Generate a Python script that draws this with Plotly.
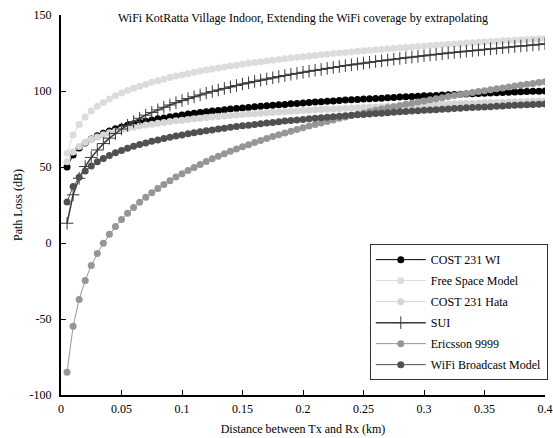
import plotly.graph_objects as go

# Tx-Rx separation grid (km)
distance_km = [round(0.005 * i, 3) for i in range(1, 81)]

cost231_wi = [50.0, 57.9, 62.5, 65.8, 68.4, 70.5, 72.2, 73.7, 75.1, 76.3,
              77.4, 78.4, 79.3, 80.1, 80.9, 81.7, 82.3, 83.0, 83.6, 84.2,
              84.8, 85.3, 85.8, 86.3, 86.8, 87.2, 87.6, 88.1, 88.5, 88.8,
              89.2, 89.6, 89.9, 90.3, 90.6, 90.9, 91.2, 91.6, 91.8, 92.1,
              92.4, 92.7, 92.9, 93.2, 93.5, 93.7, 94.0, 94.2, 94.4, 94.7,
              94.9, 95.1, 95.3, 95.6, 95.8, 96.0, 96.2, 96.4, 96.6, 96.8,
              96.9, 97.1, 97.3, 97.5, 97.7, 97.9, 98.0, 98.2, 98.4, 98.5,
              98.7, 98.8, 99.0, 99.2, 99.3, 99.5, 99.6, 99.8, 99.9, 100.0]

free_space = [59.0, 71.0, 77.9, 82.9, 86.8, 89.9, 92.5, 94.8, 96.9, 98.7,
              100.3, 101.8, 103.2, 104.5, 105.7, 106.8, 107.8, 108.8, 109.8, 110.6,
              111.5, 112.3, 113.1, 113.8, 114.5, 115.2, 115.8, 116.4, 117.0, 117.6,
              118.2, 118.7, 119.3, 119.8, 120.3, 120.8, 121.2, 121.7, 122.2, 122.6,
              123.0, 123.4, 123.8, 124.2, 124.6, 125.0, 125.4, 125.7, 126.1, 126.4,
              126.8, 127.1, 127.4, 127.8, 128.1, 128.4, 128.7, 129.0, 129.3, 129.6,
              129.9, 130.1, 130.4, 130.7, 131.0, 131.3, 131.5, 131.8, 132.0, 132.2,
              132.5, 132.7, 133.0, 133.2, 133.4, 133.7, 133.9, 134.1, 134.4, 134.6]

cost231_hata = [53.5, 59.8, 63.5, 66.1, 68.2, 69.8, 71.2, 72.5, 73.5, 74.5,
                75.4, 76.2, 76.9, 77.6, 78.2, 78.8, 79.3, 79.9, 80.4, 80.8,
                81.3, 81.7, 82.1, 82.5, 82.9, 83.2, 83.6, 83.9, 84.2, 84.5,
                84.8, 85.1, 85.4, 85.7, 85.9, 86.2, 86.4, 86.7, 86.9, 87.1,
                87.4, 87.6, 87.8, 88.0, 88.2, 88.4, 88.6, 88.8, 89.0, 89.2,
                89.4, 89.5, 89.7, 89.9, 90.0, 90.2, 90.4, 90.5, 90.7, 90.8,
                91.0, 91.1, 91.3, 91.4, 91.6, 91.7, 91.8, 92.0, 92.1, 92.2,
                92.4, 92.5, 92.6, 92.7, 92.9, 93.0, 93.1, 93.2, 93.4, 93.5]

sui = [13.0, 31.7, 42.6, 50.3, 56.3, 61.2, 65.4, 69.0, 72.1, 75.0,
       77.5, 79.9, 82.1, 84.1, 85.9, 87.6, 89.3, 90.8, 92.3, 93.7,
       95.0, 96.2, 97.4, 98.6, 99.7, 100.7, 101.7, 102.7, 103.6, 104.6,
       105.4, 106.3, 107.2, 107.9, 108.7, 109.5, 110.2, 111.0, 111.6, 112.3,
       113.0, 113.6, 114.2, 114.9, 115.5, 116.1, 116.7, 117.2, 117.8, 118.3,
       118.9, 119.4, 119.9, 120.4, 120.9, 121.4, 121.9, 122.3, 122.8, 123.2,
       123.7, 124.1, 124.5, 125.0, 125.4, 125.8, 126.2, 126.6, 127.0, 127.4,
       127.8, 128.1, 128.5, 128.9, 129.3, 129.6, 129.9, 130.3, 130.7, 131.0]

ericsson_9999 = [-85.0, -54.8, -37.1, -24.6, -14.8, -6.9, -0.2, 5.7, 10.8, 15.4,
                 19.5, 23.3, 26.8, 30.1, 33.1, 35.9, 38.5, 41.0, 43.4, 45.6,
                 47.7, 49.7, 51.7, 53.6, 55.4, 57.1, 58.7, 60.3, 61.8, 63.3,
                 64.7, 66.1, 67.5, 68.7, 70.0, 71.2, 72.4, 73.6, 74.7, 75.8,
                 77.0, 78.0, 79.0, 80.0, 81.0, 82.0, 82.9, 83.8, 84.7, 85.6,
                 86.5, 87.3, 88.1, 88.9, 89.7, 90.5, 91.3, 92.0, 92.8, 93.5,
                 94.2, 94.9, 95.6, 96.3, 97.0, 97.7, 98.3, 99.0, 99.6, 100.2,
                 100.8, 101.4, 102.0, 102.6, 103.3, 103.9, 104.4, 105.0, 105.6, 106.1]

wifi_broadcast = [27.0, 37.2, 43.2, 47.4, 50.7, 53.4, 55.6, 57.6, 59.3, 60.9,
                  62.3, 63.6, 64.8, 65.8, 66.9, 67.8, 68.7, 69.5, 70.4, 71.1,
                  71.8, 72.5, 73.2, 73.8, 74.4, 75.0, 75.5, 76.1, 76.6, 77.1,
                  77.5, 78.0, 78.5, 78.9, 79.3, 79.7, 80.2, 80.6, 80.9, 81.3,
                  81.7, 82.0, 82.4, 82.7, 83.0, 83.4, 83.7, 84.0, 84.3, 84.6,
                  84.9, 85.2, 85.4, 85.7, 86.0, 86.3, 86.5, 86.8, 87.0, 87.3,
                  87.5, 87.7, 88.0, 88.2, 88.5, 88.7, 88.9, 89.1, 89.3, 89.5,
                  89.7, 90.0, 90.2, 90.4, 90.6, 90.8, 90.9, 91.1, 91.3, 91.5]

x_ticks = [0, 0.05, 0.1, 0.15, 0.2, 0.25, 0.3, 0.35, 0.4]
x_tick_text = ["0", "0.05", "0.1", "0.15", "0.2", "0.25", "0.3", "0.35", "0.4"]
y_ticks = [-100, -50, 0, 50, 100, 150]
y_tick_text = ["-100", "-50", "0", "50", "100", "150"]

FONT = "Liberation Serif"

series = [
    ("COST 231 WI", cost231_wi, "#000000", "circle", 7),
    ("Free Space Model", free_space, "#dcdcdc", "circle", 7),
    ("COST 231 Hata", cost231_hata, "#d6d6d6", "circle", 7),
    ("SUI", sui, "#3a3a3a", "cross-thin", 9),
    ("Ericsson 9999", ericsson_9999, "#969696", "circle", 7),
    ("WiFi Broadcast Model", wifi_broadcast, "#505050", "circle", 7),
]

fig = go.Figure()
for name, vals, color, symbol, size in series:
    marker = dict(symbol=symbol, size=size, color=color)
    if symbol == "cross-thin":
        marker["line"] = dict(width=1, color=color)
        line = dict(color=color, width=1.5)
    else:
        line = dict(color=color, width=1)
    fig.add_trace(go.Scatter(
        x=distance_km, y=vals, name=name, mode="lines+markers",
        line=line, marker=marker, legendgroup=name,
    ))

fig.add_annotation(
    text="WiFi KotRatta Village Indoor, Extending the WiFi coverage by extrapolating",
    xref="paper", yref="paper", x=0.5, y=0.992, xanchor="center", yanchor="middle",
    showarrow=False, font=dict(family=FONT, size=12, color="#000"),
)

fig.update_layout(
    width=553, height=438,
    margin=dict(l=61, r=8, t=15, b=43, autoexpand=False),
    paper_bgcolor="white", plot_bgcolor="white",
    font=dict(family=FONT, size=12, color="#000"),
    showlegend=True,
    legend=dict(
        x=0.638, y=0.397, xanchor="left", yanchor="top",
        bgcolor="white", bordercolor="#333333", borderwidth=1,
        font=dict(family=FONT, size=12, color="#000"),
        tracegroupgap=2, itemwidth=50,
    ),
)

fig.update_xaxes(
    range=[0, 0.4], tickvals=x_ticks, ticktext=x_tick_text, automargin=False,
    showline=True, linecolor="#000", linewidth=2, mirror=False,
    ticks="inside", ticklen=5, tickwidth=1, tickcolor="#000",
    ticklabelstandoff=2,
    showgrid=False, zeroline=False,
    title=dict(text="Distance between Tx and Rx (km)", font=dict(family=FONT, size=12), standoff=9),
)
fig.update_yaxes(
    range=[-100, 150], tickvals=y_ticks, ticktext=y_tick_text, automargin=False,
    showline=True, linecolor="#000", linewidth=2, mirror=False,
    ticks="inside", ticklen=5, tickwidth=1, tickcolor="#000",
    ticklabelstandoff=5,
    showgrid=False, zeroline=False,
    title=dict(text="Path Loss (dB)", font=dict(family=FONT, size=12), standoff=4),
)

fig.write_html("out.html")
